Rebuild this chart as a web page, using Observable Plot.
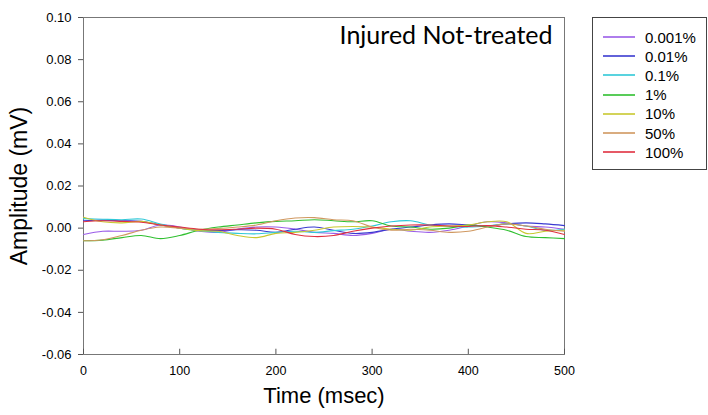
<!DOCTYPE html>
<html>
<head>
<meta charset="utf-8">
<script src="https://cdn.jsdelivr.net/npm/d3@7"></script>
<script src="https://cdn.jsdelivr.net/npm/@observablehq/plot@0.6"></script>
<style>
  html, body { margin: 0; padding: 0; background: #fff; }
  #wrap { position: relative; width: 708px; height: 415px; }
  #legend { position: absolute; left: 592px; top: 17px; width: 113px; height: 151px;
            border: 1px solid #444; background: #fff; font-family: "Liberation Sans", Arial, sans-serif; font-size: 15px; color: #000; }
  .row { position: absolute; left: 0; height: 18px; display: flex; align-items: center; }
  .sw { display: block; margin-left: 10px; margin-right: 10px; }
</style>
</head>
<body>
<div id="wrap"><div id="legend"></div></div>
<script>
const times = [0,20,40,60,80,100,120,140,160,180,200,220,240,260,280,300,320,340,360,380,400,420,440,460,480,500];
const seriesNames = ["0.001%","0.01%","0.1%","1%","10%","50%","100%"];
const seriesColors = ["#9a5ce8","#3a3ad0","#30c8d8","#30c030","#c8c830","#d09860","#e03040"];
const s0001 = [-0.0030,-0.0015,-0.0015,-0.0010,0.0015,0.0005,-0.0015,-0.0020,-0.0005,0.0005,0.0005,-0.0005,-0.0020,-0.0025,-0.0035,-0.0025,-0.0005,-0.0015,-0.0020,-0.0010,0.0010,0.0030,0.0025,0.0010,0.0005,-0.0005];
const s001  = [0.0035,0.0038,0.0035,0.0033,0.0015,0.0000,-0.0010,-0.0012,-0.0008,-0.0010,-0.0020,-0.0005,0.0005,-0.0010,-0.0025,-0.0020,-0.0005,0.0005,0.0015,0.0020,0.0015,0.0010,0.0020,0.0025,0.0020,0.0012];
const s01   = [0.0045,0.0042,0.0040,0.0043,0.0020,0.0000,-0.0012,-0.0020,-0.0025,-0.0027,-0.0020,-0.0015,-0.0020,-0.0012,-0.0005,0.0010,0.0030,0.0035,0.0015,0.0008,0.0005,0.0010,0.0020,0.0010,-0.0010,-0.0005];
const s1    = [-0.0060,-0.0057,-0.0045,-0.0035,-0.0050,-0.0035,-0.0010,0.0005,0.0015,0.0025,0.0032,0.0035,0.0040,0.0035,0.0030,0.0035,0.0010,0.0005,-0.0005,0.0000,0.0015,0.0005,-0.0010,-0.0040,-0.0045,-0.0050];
const s10   = [0.0052,0.0030,0.0025,0.0032,0.0015,0.0000,-0.0012,-0.0015,-0.0035,-0.0045,-0.0025,-0.0020,-0.0010,0.0005,0.0008,0.0005,-0.0005,-0.0010,0.0005,0.0010,0.0015,0.0030,0.0030,-0.0025,-0.0015,-0.0010];
const s50   = [-0.0060,-0.0055,-0.0035,-0.0010,0.0005,0.0000,-0.0005,-0.0002,0.0005,0.0015,0.0035,0.0048,0.0050,0.0040,0.0035,0.0005,-0.0010,-0.0005,-0.0010,-0.0020,-0.0015,0.0005,0.0020,0.0010,-0.0005,-0.0015];
const s100  = [0.0030,0.0035,0.0032,0.0028,0.0015,0.0005,-0.0005,-0.0008,-0.0005,0.0000,-0.0005,-0.0030,-0.0040,-0.0035,-0.0015,0.0000,0.0010,0.0015,0.0015,0.0010,0.0008,0.0012,0.0005,-0.0005,-0.0010,-0.0030];
const seriesValues = [s0001, s001, s01, s1, s10, s50, s100];
const yTicks = [-0.06,-0.04,-0.02,0.00,0.02,0.04,0.06,0.08,0.10];
const xTicks = [0,100,200,300,400,500];
const chartTitle = "Injured Not-treated";

const rows = [];
seriesNames.forEach((name, i) => {
  times.forEach((t, j) => rows.push({series: name, t, v: seriesValues[i][j]}));
});

const font = "'Liberation Sans', Arial, sans-serif";
const chart = Plot.plot({
  width: 708,
  height: 415,
  marginLeft: 83,
  marginRight: 144,
  marginTop: 17,
  marginBottom: 61,
  style: {fontFamily: font, fontSize: "13px", color: "#000", background: "#fff"},
  x: {domain: [0, 500], ticks: xTicks},
  y: {domain: [-0.06, 0.10], ticks: yTicks},
  color: {domain: seriesNames, range: seriesColors},
  marks: [
    Plot.frame({stroke: "#777"}),
    Plot.ruleX(xTicks, {x: d => d, y1: -0.06, y2: -0.0575, stroke: "#555"}),
    Plot.axisX({ticks: xTicks, tickSize: 0, tickPadding: 12, label: null, tickFormat: d => String(d), fontSize: 12.5}),
    Plot.axisY({ticks: yTicks, tickSize: 5, tickPadding: 7, label: null, tickFormat: d => d.toFixed(2), stroke: "#555", fontSize: 13}),
    Plot.line(rows, {x: "t", y: "v", z: "series", stroke: "series", strokeWidth: 1.1, curve: "catmull-rom"}),
    Plot.text([chartTitle], {text: d => d, frameAnchor: "top-right", dx: -12, dy: 9, fontSize: 25, fontFamily: "Lato, 'Open Sans', sans-serif", textAnchor: "end", lineAnchor: "top", fill: "#000"}),
    Plot.text(["Amplitude (mV)"], {text: d => d, frameAnchor: "left", textAnchor: "middle", dx: -64, rotate: -90, fontSize: 23, fill: "#000"}),
    Plot.text(["Time (msec)"], {text: d => d, frameAnchor: "bottom", dy: 48, fontSize: 22, fill: "#000"})
  ]
});
const wrap = document.getElementById("wrap");
wrap.insertBefore(chart, wrap.firstChild);

const legend = document.getElementById("legend");
seriesNames.forEach((name, i) => {
  const r = document.createElement("div");
  r.className = "row";
  r.style.top = (10 + i * 19.2) + "px";
  const svg = d3.create("svg").attr("class", "sw").attr("width", 32).attr("height", 6);
  svg.append("line").attr("x1", 0).attr("x2", 32).attr("y1", 3).attr("y2", 3)
     .attr("stroke", seriesColors[i]).attr("stroke-width", 1.6);
  const lab = document.createElement("span");
  lab.textContent = name;
  r.appendChild(svg.node()); r.appendChild(lab);
  legend.appendChild(r);
});
</script>
</body>
</html>
